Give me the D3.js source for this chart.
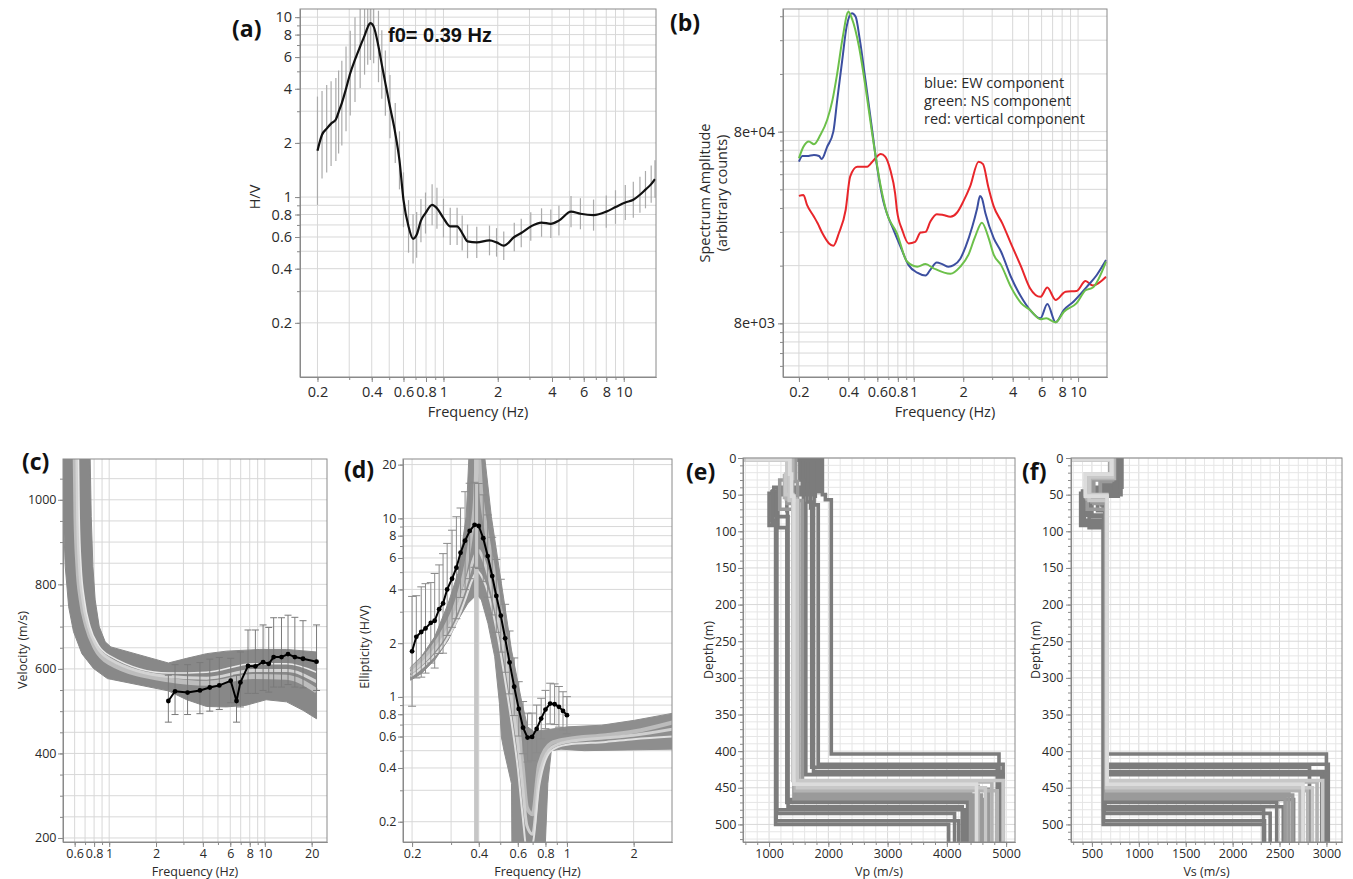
<!DOCTYPE html>
<html>
<head>
<meta charset="utf-8">
<script src="https://cdn.jsdelivr.net/npm/d3@7"></script>
<style>
  body { margin: 0; background: #fff; }
  svg { display: block; font-family: "Open Sans", sans-serif; }
</style>
</head>
<body>
<script>
// ---------------- (a) H/V curve ----------------
const f0 = 0.39;
const hvFreq = [0.2,0.212,0.225,0.238,0.253,0.262,0.273,0.288,0.304,0.323,0.345,0.365,0.38,0.393,0.41,0.436,0.455,0.476,0.505,0.54,0.57,0.6,0.64,0.678,0.71,0.75,0.795,0.865,0.92,1.0,1.09,1.19,1.27,1.36,1.53,1.8,1.97,2.16,2.47,2.7,3.05,3.5,3.94,4.37,5.1,5.75,6.8,8.0,9.0,10.2,11.3,12.3,13.2,14.2,14.9];
const hvMean = [1.81,2.22,2.4,2.56,2.7,2.97,3.33,4.0,4.88,5.8,6.87,7.9,8.8,9.26,8.86,6.87,5.45,4.3,3.18,2.27,1.6,0.966,0.687,0.586,0.617,0.74,0.815,0.906,0.868,0.764,0.687,0.687,0.631,0.567,0.56,0.574,0.56,0.537,0.6,0.631,0.687,0.722,0.71,0.74,0.83,0.808,0.794,0.83,0.88,0.933,0.966,1.03,1.1,1.18,1.26];
const hvStd = [2.0,1.75,1.75,1.72,1.7,1.7,1.72,1.72,1.72,1.72,1.7,1.65,1.62,1.6,1.6,1.58,1.55,1.52,1.5,1.47,1.45,1.42,1.4,1.37,1.34,1.32,1.3,1.3,1.3,1.28,1.27,1.27,1.25,1.24,1.22,1.21,1.2,1.2,1.2,1.2,1.2,1.2,1.2,1.21,1.22,1.22,1.22,1.23,1.24,1.25,1.26,1.26,1.27,1.27,1.27];
const aXTicks = [0.2,0.4,0.6,0.8,1,2,4,6,8,10];
const aYTicks = [0.2,0.4,0.6,0.8,1,2,4,6,8,10];

// ---------------- (b) spectra (counts) ----------------
const ewFreq = [0.2,0.21,0.224,0.247,0.265,0.275,0.297,0.324,0.342,0.367,0.39,0.42,0.443,0.47,0.508,0.558,0.598,0.65,0.686,0.753,0.83,0.93,1.05,1.18,1.26,1.38,1.49,1.63,1.75,1.92,2.07,2.27,2.43,2.53,2.6,2.73,3.07,3.4,3.9,4.5,5.1,5.9,6.5,7.3,8.2,9.4,11.3,13.0,14.8];
const ewAmp = [55800,59700,59700,60500,59700,57600,66700,80000,116800,188800,281600,331200,317600,240000,148800,81600,52500,35200,30000,24600,20100,16100,14700,14200,15200,16600,16300,15800,16100,17400,20100,25500,31800,36900,35900,30000,22200,18900,14000,11000,9400,8500,10100,8100,9400,10400,12400,14300,17100];
const nsFreq = [0.2,0.213,0.23,0.247,0.27,0.297,0.32,0.342,0.37,0.4,0.42,0.464,0.508,0.558,0.63,0.686,0.79,0.91,1.05,1.18,1.32,1.67,1.92,2.15,2.36,2.6,2.84,3.07,3.4,3.9,4.5,5.1,5.9,6.4,7.3,8.2,9.8,11.1,12.3,14.8];
const nsAmp = [58100,66700,71000,68800,76800,92000,116800,160800,250400,337600,312000,222400,137600,78400,41300,30000,23600,16800,15800,16300,15500,14500,15800,18200,22600,26800,22600,18200,16100,12400,10200,9400,8400,8500,8100,9200,10200,11900,12300,16800];
const zFreq = [0.2,0.213,0.224,0.247,0.26,0.278,0.305,0.324,0.35,0.385,0.41,0.453,0.52,0.57,0.63,0.67,0.72,0.77,0.79,0.85,0.93,1.02,1.1,1.18,1.26,1.38,1.51,1.67,1.83,2.0,2.2,2.48,2.64,2.84,3.07,3.46,3.9,4.5,5.1,5.9,6.5,7.3,8.4,9.8,11.1,12.3,14.8];
const zAmp = [37000,37400,33200,28800,26600,23600,20900,20300,23600,31200,46600,52500,52500,56800,61100,59200,50400,38100,31200,24600,20900,21300,23800,24000,27100,29700,29400,28800,30200,34500,41300,55800,54200,41300,32500,26600,20900,15800,12200,11000,12300,10600,11700,11800,13300,12600,14000];
const bYTicks = [8000, 80000];
const bYLabels = ["8e+03", "8e+04"];
const bLegend = ["blue: EW component", "green: NS component", "red: vertical component"];

// ---------------- (c) dispersion ----------------
const cBandUpF = [0.745,0.755,0.767,0.786,0.813,0.863,0.943,1.025,2.4,3.15,4.23,5.68,9.3,13.8,21.5];
const cBandUpV = [1200,1096,960,842,763,700,664,652,614,625,636,642,646,646,640];
const cBandLoF = [21.5,17.6,13.8,10.2,7.6,5.68,4.23,3.15,2.4,1.04,0.975,0.793,0.668,0.59,0.549,0.522,0.505,0.49];
const cBandLoV = [482,502,522,527,514,510,511,527,548,575,577,601,636,688,747,842,984,1200];
const cModelA = [[0.605,1100],[0.612,960],[0.63,842],[0.662,763],[0.72,700],[0.815,650],[1.0,615],[2.4,574],[4.23,566],[8.4,582],[13.8,580],[21.5,548]];
const cModelB = [[0.62,1100],[0.627,960],[0.645,842],[0.678,763],[0.737,700],[0.834,653],[1.0,624],[2.4,582],[4.23,578],[8.4,596],[13.8,596],[21.5,570]];
const cModelC = [[0.635,1100],[0.642,960],[0.66,842],[0.694,763],[0.754,700],[0.85,657],[1.02,630],[2.4,590],[4.23,592],[8.4,612],[13.8,612],[21.5,592]];
const dispFreq = [2.4,2.65,3.19,3.83,4.43,5.1,6.04,6.58,6.97,7.8,8.7,9.75,10.6,11.4,12.8,14.1,15.6,17.6,21.5];
const dispVel = [524,547,544,549,556,561,572,524,568,607,606,616,612,628,628,635,628,624,617];
const dispLow = [474,492,492,494,500,504,520,474,510,542,542,549,545,557,557,563,557,555,549];
const dispHigh = [585,610,610,615,623,627,625,585,640,692,692,704,698,721,721,727,722,714,704];
const cXTicks = [0.6,0.8,1,2,4,6,8,10,20];
const cYTicks = [200,400,600,800,1000];

// ---------------- (d) ellipticity ----------------
const dBandLoF = [0.197,0.22,0.253,0.291,0.322,0.357,0.383,0.395,0.411,0.44,0.472,0.496,0.506,0.52,0.562,0.565,0.793,0.82,0.85,0.94,1.2,3.0];
const dBandLoV = [1.24,1.35,1.61,2.08,2.69,3.34,3.64,3.7,3.49,2.58,1.68,0.918,0.596,0.5,0.327,0.12,0.12,0.327,0.5,0.51,0.5,0.51];
const dBandHiF = [3.0,2.02,1.43,1.01,0.71,0.664,0.623,0.562,0.506,0.456,0.414,0.365,0.351,0.322,0.291,0.253,0.22,0.197];
const dBandHiV = [0.81,0.74,0.694,0.68,0.64,0.68,0.96,1.83,4.32,10.2,30,30,10.2,4.92,3.34,2.17,1.68,1.47];
const dModelF = [0.197,0.24,0.28,0.32,0.35,0.37,0.385,0.392,0.40,0.41,0.43,0.46,0.49,0.52,0.56,0.6,0.63,0.66,0.7,0.75,0.85,1.0,1.5,2.0,3.0];
const dModelA = [1.42,1.8,2.4,3.5,5.4,8.2,13,22,22,14,9,5.6,3.6,2.3,1.3,0.72,0.42,0.24,0.22,0.42,0.55,0.58,0.61,0.64,0.72];
const dModelB = [1.36,1.7,2.2,3.1,4.3,5.4,6.2,6.5,6.6,6.3,5.4,3.9,2.7,1.8,1.0,0.55,0.32,0.19,0.17,0.36,0.52,0.56,0.59,0.61,0.66];
const dModelC = [1.3,1.6,2.0,2.7,3.6,4.4,4.9,5.1,5.0,4.8,4.2,3.1,2.1,1.35,0.75,0.4,0.22,0.14,0.15,0.32,0.5,0.54,0.56,0.58,0.6];
const ellFreq = [0.2,0.209,0.22,0.23,0.243,0.253,0.265,0.276,0.288,0.303,0.317,0.331,0.347,0.364,0.383,0.4,0.419,0.439,0.46,0.48,0.503,0.526,0.551,0.578,0.606,0.634,0.664,0.696,0.73,0.765,0.8,0.84,0.88,0.92,0.96,1.0];
const ellMean = [1.8,2.17,2.31,2.42,2.6,2.67,3.1,3.34,4.0,4.59,5.29,6.42,7.5,8.5,9.2,9.06,7.74,6.15,4.75,3.68,2.85,2.13,1.56,1.14,0.857,0.673,0.592,0.597,0.662,0.756,0.85,0.918,0.91,0.88,0.835,0.79];
const ellStd = [2.03,1.7,1.79,1.78,1.68,1.84,1.77,1.9,1.81,1.87,1.93,1.78,1.88,1.85,1.73,1.73,1.75,1.7,1.65,1.6,1.6,1.55,1.5,1.45,1.42,1.4,1.37,1.36,1.36,1.3,1.28,1.3,1.3,1.3,1.28,1.27];
const dXTicks = [0.2,0.4,0.6,0.8,1,2];
const dYTicks = [0.2,0.4,0.6,0.8,1,2,4,6,8,10,20];

// ---------------- (e)/(f) layered models ----------------
// layer bottoms (m), then Vp and Vs per layer (last = half-space)
const modelZ = [
  [2,46,85,500],[2,50,57,404],[3,48,92,485],[2,40,78,495],[3,52,64,418],[2,44,68,428],
  [3,42,95,470],[2,50,80,476],[3,48,72,466],[2,36,60,422],[3,30,62,432],[2,45,88,480],
  [2,32,58,452],[3,26,62,460],[2,30,70,465],[2,28,60,458],
  [3,24,54,442],[2,28,56,448],[3,24,56,454],
  [3,22,50,440],[2,26,58,450],
  [2,22,52,445]
];
const modelVp = [
  [600,1850,1050,1110,4030],[640,1900,1950,2050,4880],[620,1700,1000,1130,4130],[700,1800,1080,1120,4200],
  [680,1780,1760,1830,4950],[650,1650,1700,1750,4900],[600,1600,1150,1300,4350],[640,1750,1120,1320,4260],
  [660,1720,1300,1310,4620],[700,1560,1640,1720,4850],[720,1520,1580,1620,4950],[600,1820,1060,1125,4310],
  [650,1420,1480,1560,4700],[700,1380,1300,1460,4580],[600,1330,1180,1420,4450],[640,1450,1400,1500,4400],
  [620,1320,1260,1420,4760],[660,1400,1330,1460,4530],[650,1310,1290,1440,4850],
  [600,1300,1280,1400,4950],[620,1360,1340,1480,4650],
  [640,1350,1380,1420,4500]
];
const modelVs = [
  [300,790,420,620,2330],[310,810,600,640,3000],[290,760,380,630,2400],[320,820,440,625,2340],
  [300,780,600,640,3020],[310,700,620,650,2980],[300,720,470,630,2470],[320,740,500,640,2540],
  [300,760,560,635,2650],[300,690,600,650,2820],[310,700,590,645,2950],[300,800,400,625,2330],
  [300,700,590,655,2750],[320,690,520,650,2640],[300,720,450,645,2560],[310,730,500,650,2600],
  [290,730,440,660,2900],[300,740,480,660,2720],[300,700,450,660,2800],
  [300,700,430,660,2960],[300,720,470,655,2850],
  [300,712,430,662,2750]
];
const modelShade = [0,0,0,0,0,0,0,0,0,0,0,0,1,1,1,1,2,2,2,3,3,4];
const eXTicks = [1000,2000,3000,4000,5000];
const fXTicks = [500,1000,1500,2000,2500,3000];
const depthTicks = [0,50,100,150,200,250,300,350,400,450,500];

// ---------------- drawing ----------------
const W = 1353, H = 879;
const AXIS = "#8a8a8a", GRID = "#d8d8d8", GRID_MIN = "#e6e6e6", TEXT = "#2a2a2a";
const SHADES = ["#7c7c7c", "#9a9a9a", "#b3b3b3", "#c8c8c8", "#dcdcdc"];

const svg = d3.select("body").append("svg").attr("width", W).attr("height", H);
svg.append("rect").attr("width", W).attr("height", H).attr("fill", "#fff");
const defs = svg.append("defs");

function makePanel(o) {
  const g = svg.append("g");
  defs.append("clipPath").attr("id", "clip-" + o.name).append("rect")
    .attr("x", o.left).attr("y", o.top)
    .attr("width", o.right - o.left).attr("height", o.bottom - o.top);
  const xMaj = new Set(o.xTicks), yMaj = new Set(o.yTicks);
  g.append("g").selectAll("line").data(o.xGrid).join("line")
    .attr("x1", d => o.x(d)).attr("x2", d => o.x(d))
    .attr("y1", o.top).attr("y2", o.bottom)
    .attr("stroke", d => (o.twoTone && !xMaj.has(d)) ? GRID_MIN : GRID).attr("stroke-width", 1);
  g.append("g").selectAll("line").data(o.yGrid).join("line")
    .attr("y1", d => o.y(d)).attr("y2", d => o.y(d))
    .attr("x1", o.left).attr("x2", o.right)
    .attr("stroke", d => (o.twoTone && !yMaj.has(d)) ? GRID_MIN : GRID).attr("stroke-width", 1);
  const plot = g.append("g").attr("clip-path", `url(#clip-${o.name})`);
  return { g, plot, o };
}

function finishPanel(p) {
  const o = p.o, g = p.g;
  g.append("rect").attr("x", o.left).attr("y", o.top)
    .attr("width", o.right - o.left).attr("height", o.bottom - o.top)
    .attr("fill", "none").attr("stroke", AXIS).attr("stroke-width", 1);
  const ax = g.append("g");
  ax.append("g").attr("transform", `translate(0,${o.bottom})`)
    .call(d3.axisBottom(o.x).tickValues(o.xGrid).tickSize(3).tickSizeOuter(0).tickFormat(""));
  ax.append("g").attr("transform", `translate(0,${o.bottom})`)
    .call(d3.axisBottom(o.x).tickValues(o.xTicks).tickSize(5).tickSizeOuter(0)
      .tickPadding(o.xPad).tickFormat(o.xFmt));
  ax.append("g").attr("transform", `translate(${o.left},0)`)
    .call(d3.axisLeft(o.y).tickValues(o.yGrid).tickSize(3).tickSizeOuter(0).tickFormat(""));
  ax.append("g").attr("transform", `translate(${o.left},0)`)
    .call(d3.axisLeft(o.y).tickValues(o.yTicks).tickSize(5).tickSizeOuter(0)
      .tickPadding(o.yPad).tickFormat(o.yFmt));
  ax.selectAll(".domain").attr("stroke", AXIS);
  ax.selectAll(".tick line").attr("stroke", AXIS);
  ax.selectAll(".tick text").attr("fill", TEXT)
    .style("font-size", o.fs + "px").style("font-family", "'Open Sans', sans-serif");
  // axis titles
  g.append("text").attr("x", (o.left + o.right) / 2).attr("y", o.xTitleY)
    .attr("text-anchor", "middle").attr("fill", TEXT)
    .style("font-size", o.fsTitle + "px").text(o.xTitle);
  o.yTitle.forEach((t, i) => {
    g.append("text")
      .attr("transform", `translate(${o.yTitleX[i]},${o.yTitleCY}) rotate(-90)`)
      .attr("text-anchor", "middle").attr("fill", TEXT)
      .style("font-size", o.fsTitle + "px").text(t);
  });
  g.append("text").attr("x", o.tagX).attr("y", o.tagY).attr("fill", "#111")
    .style("font-size", "23px").style("font-weight", "700").text(o.tag);
}

const num = d => String(d);
const pairs = (a, b) => d3.zip(a, b);
// shared text settings for the lower row of panels
const LOWER = { xPad: 2.1, fs: 12.5, fsTitle: 12.5, xTitleY: 875.5 };

// ===== (a) =====
{
  const x = d3.scaleLog().domain([0.16, 15.1]).range([300, 656]);
  const y = d3.scaleLog().domain([0.1, 11.1]).range([377, 9]);
  const p = makePanel({ name: "a", left: 300, right: 656, top: 9, bottom: 377, x, y,
    xGrid: x.ticks(), yGrid: y.ticks().filter(v => v > 0.1), xTicks: aXTicks, yTicks: aYTicks });
  p.plot.append("g").selectAll("line").data(hvFreq).join("line")
    .attr("x1", d => x(d)).attr("x2", d => x(d))
    .attr("y1", (d, i) => y(hvMean[i] * hvStd[i])).attr("y2", (d, i) => y(hvMean[i] / hvStd[i]))
    .attr("stroke", "#ababab").attr("stroke-width", 1.2);
  p.plot.append("path").datum(pairs(hvFreq, hvMean))
    .attr("d", d3.line().x(d => x(d[0])).y(d => y(d[1])).curve(d3.curveMonotoneX))
    .attr("fill", "none").attr("stroke", "#111").attr("stroke-width", 2.2);
  p.g.append("text").attr("x", 388).attr("y", 42).attr("fill", "#111")
    .style("font-family", "'Liberation Sans', Arial, sans-serif")
    .style("font-size", "20px").style("font-weight", "700").text(`f0= ${f0} Hz`);
  Object.assign(p.o, { xFmt: num, yFmt: num, xPad: 4.6, yPad: 3, fs: 14.5, fsTitle: 14.5,
    xTitle: "Frequency (Hz)", xTitleY: 417, yTitle: ["H/V"], yTitleX: [260], yTitleCY: 197,
    tag: "(a)", tagX: 232, tagY: 37 });
  finishPanel(p);
}

// ===== (b) =====
{
  const ref = 8000;
  const x = d3.scaleLog().domain([0.16, 15.0]).range([783, 1107]);
  const y = d3.scaleLog().domain([4200, 349000]).range([377, 9]);
  const uGrid = d3.scaleLog().domain(y.domain().map(v => v / ref)).ticks().map(u => u * ref);
  const p = makePanel({ name: "b", left: 783, right: 1107, top: 9, bottom: 377, x, y,
    xGrid: x.ticks(), yGrid: uGrid, xTicks: aXTicks, yTicks: bYTicks });
  const line = d3.line().x(d => x(d[0])).y(d => y(d[1])).curve(d3.curveMonotoneX);
  [[zFreq, zAmp, "#e8262b"], [ewFreq, ewAmp, "#3c4fa0"], [nsFreq, nsAmp, "#6cc04a"]]
    .forEach(([f, a, c]) => {
      p.plot.append("path").datum(pairs(f, a)).attr("d", line)
        .attr("fill", "none").attr("stroke", c).attr("stroke-width", 2);
    });
  p.g.append("g").selectAll("text").data(bLegend).join("text")
    .attr("x", 924).attr("y", (d, i) => 88 + i * 18).attr("fill", TEXT)
    .style("font-size", "14.5px").text(d => d);
  Object.assign(p.o, { xFmt: num, yFmt: (d, i) => bYLabels[i], xPad: 4.6, yPad: 3, fs: 14.5, fsTitle: 14.5,
    xTitle: "Frequency (Hz)", xTitleY: 417, yTitle: ["Spectrum Amplitude", "(arbitrary counts)"],
    yTitleX: [710, 727], yTitleCY: 193, tag: "(b)", tagX: 670, tagY: 31 });
  finishPanel(p);
}

// ===== (c) =====
{
  const x = d3.scaleLog().domain([0.505, 25.1]).range([63, 327]);
  const y = d3.scaleLinear().domain([190.5, 1096.5]).range([842, 459]);
  const p = makePanel({ name: "c", left: 63, right: 327, top: 459, bottom: 842, x, y,
    xGrid: x.ticks(), yGrid: d3.range(200, 1100, 50), xTicks: cXTicks, yTicks: cYTicks });
  const lin = d3.line().x(d => x(d[0])).y(d => y(d[1]));
  const band = pairs(cBandUpF, cBandUpV).concat(pairs(cBandLoF, cBandLoV));
  p.plot.append("path").attr("d", lin(band) + "Z")
    .attr("fill", "#888").attr("stroke", "#888").attr("stroke-width", 1);
  const ml = d3.line().x(d => x(d[0])).y(d => y(d[1])).curve(d3.curveMonotoneX);
  [[cModelA, "#bdbdbd", 5], [cModelB, "#d3d3d3", 3], [cModelC, "#e9e9e9", 1.5]].forEach(([m, c, w]) => {
    p.plot.append("path").datum(m).attr("d", ml).attr("fill", "none").attr("stroke", c).attr("stroke-width", w);
  });
  const eb = p.plot.append("g").attr("stroke", "#7a7a7a").attr("stroke-width", 1);
  dispFreq.forEach((f, i) => {
    const cx = x(f);
    eb.append("line").attr("x1", cx).attr("x2", cx).attr("y1", y(dispHigh[i])).attr("y2", y(dispLow[i]));
    eb.append("line").attr("x1", cx - 3.5).attr("x2", cx + 3.5).attr("y1", y(dispHigh[i])).attr("y2", y(dispHigh[i]));
    eb.append("line").attr("x1", cx - 3.5).attr("x2", cx + 3.5).attr("y1", y(dispLow[i])).attr("y2", y(dispLow[i]));
  });
  p.plot.append("path").datum(pairs(dispFreq, dispVel)).attr("d", lin)
    .attr("fill", "none").attr("stroke", "#000").attr("stroke-width", 2);
  p.plot.append("g").selectAll("circle").data(pairs(dispFreq, dispVel)).join("circle")
    .attr("cx", d => x(d[0])).attr("cy", d => y(d[1])).attr("r", 2.4).attr("fill", "#000");
  Object.assign(p.o, LOWER, { xFmt: num, yFmt: num, yPad: 1.5,
    xTitle: "Frequency (Hz)", yTitle: ["Velocity (m/s)"], yTitleX: [27], yTitleCY: 650,
    tag: "(c)", tagX: 22, tagY: 470 });
  finishPanel(p);
}

// ===== (d) =====
{
  const x = d3.scaleLog().domain([0.182, 2.98]).range([403, 672]);
  const y = d3.scaleLog().domain([0.154, 21.5]).range([842, 459]);
  const p = makePanel({ name: "d", left: 403, right: 672, top: 459, bottom: 842, x, y,
    xGrid: x.ticks(), yGrid: y.ticks(), xTicks: dXTicks, yTicks: dYTicks });
  const lin = d3.line().x(d => x(d[0])).y(d => y(d[1]));
  const band = pairs(dBandLoF, dBandLoV).concat(pairs(dBandHiF, dBandHiV));
  p.plot.append("path").attr("d", lin(band) + "Z")
    .attr("fill", "#8e8e8e").attr("stroke", "#8e8e8e").attr("stroke-width", 1);
  const ml = d3.line().x(d => x(d[0])).y(d => y(d[1])).curve(d3.curveMonotoneX);
  [[dModelA, "#bcbcbc", 4], [dModelB, "#cfcfcf", 3], [dModelC, "#e0e0e0", 2]].forEach(([m, c, w]) => {
    p.plot.append("path").datum(pairs(dModelF, m)).attr("d", ml)
      .attr("fill", "none").attr("stroke", c).attr("stroke-width", w);
  });
  p.plot.append("line").attr("x1", x(f0)).attr("x2", x(f0)).attr("y1", 459).attr("y2", 842)
    .attr("stroke", "#c6c6c6").attr("stroke-width", 4.5);
  const eb = p.plot.append("g").attr("stroke", "#8a8a8a").attr("stroke-width", 1);
  ellFreq.forEach((f, i) => {
    const cx = x(f), hi = y(ellMean[i] * ellStd[i]), lo = y(ellMean[i] / ellStd[i]);
    eb.append("line").attr("x1", cx).attr("x2", cx).attr("y1", hi).attr("y2", lo);
    eb.append("line").attr("x1", cx - 4).attr("x2", cx + 4).attr("y1", hi).attr("y2", hi);
    eb.append("line").attr("x1", cx - 4).attr("x2", cx + 4).attr("y1", lo).attr("y2", lo);
  });
  p.plot.append("path").datum(pairs(ellFreq, ellMean)).attr("d", lin)
    .attr("fill", "none").attr("stroke", "#000").attr("stroke-width", 2);
  p.plot.append("g").selectAll("circle").data(pairs(ellFreq, ellMean)).join("circle")
    .attr("cx", d => x(d[0])).attr("cy", d => y(d[1])).attr("r", 2.4).attr("fill", "#000");
  Object.assign(p.o, LOWER, { xFmt: num, yFmt: num, yPad: 1.5,
    xTitle: "Frequency (Hz)", yTitle: ["Ellipticity (H/V)"], yTitleX: [368.5], yTitleCY: 647,
    tag: "(d)", tagX: 344, tagY: 478 });
  finishPanel(p);
}

// ===== (e) and (f) =====
function profilePoints(z, v, zMax) {
  const pts = [[v[0], 0]];
  z.forEach((d, i) => { pts.push([v[i], d]); pts.push([v[i + 1], d]); });
  pts.push([v[v.length - 1], zMax]);
  return pts;
}
function profilePanel(name, left, right, xDom, xStep, xTicks, vel, xTitle, tag, tagX, ytX, yPad) {
  const x = d3.scaleLinear().domain(xDom).range([left, right]);
  const y = d3.scaleLinear().domain([0, 524]).range([458, 842]);
  const p = makePanel({ name, left, right, top: 458, bottom: 842, x, y, twoTone: true,
    xGrid: d3.range(Math.ceil(xDom[0] / xStep) * xStep, xDom[1], xStep),
    yGrid: d3.range(0, 524, 10), xTicks, yTicks: depthTicks });
  const line = d3.line().x(d => x(d[0])).y(d => y(d[1]));
  const order = d3.range(modelZ.length).sort((a, b) => modelShade[a] - modelShade[b]);
  order.forEach(i => {
    p.plot.append("path").datum(profilePoints(modelZ[i], vel[i], 600))
      .attr("d", line).attr("fill", "none")
      .attr("stroke", SHADES[modelShade[i]]).attr("stroke-width", 3.6)
      .attr("stroke-linejoin", "miter");
  });
  Object.assign(p.o, LOWER, { xFmt: num, yFmt: num, yPad: yPad,
    xTitle, yTitle: ["Depth (m)"], yTitleX: [ytX], yTitleCY: 650,
    tag, tagX, tagY: 480 });
  finishPanel(p);
}
profilePanel("e", 743, 1015, [560, 5150], 200, eXTicks, modelVp, "Vp (m/s)", "(e)", 686, 712.5, 1.5);
profilePanel("f", 1071, 1342, [277, 3166], 100, fXTicks, modelVs, "Vs (m/s)", "(f)", 1022, 1039.5, 2.5);
</script>
</body>
</html>
